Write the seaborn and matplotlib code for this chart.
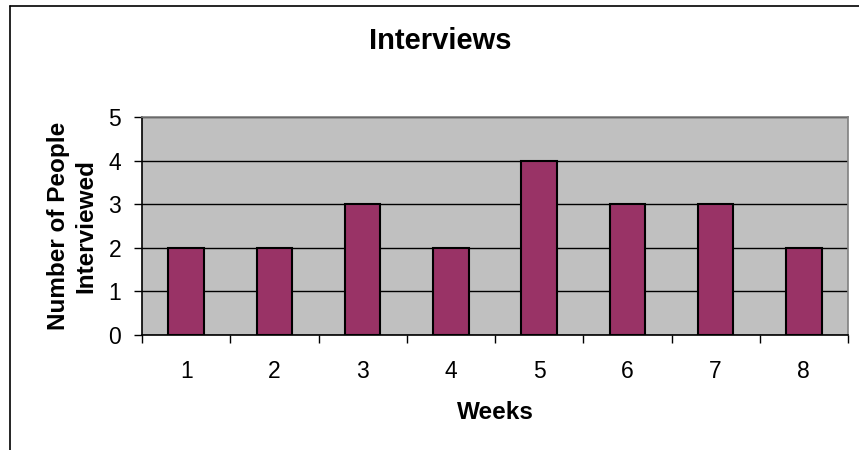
import matplotlib
matplotlib.use("Agg")
import matplotlib.pyplot as plt
import seaborn as sns
import pandas as pd
import numpy as np
from matplotlib.lines import Line2D

# chart data
weeks = ["1", "2", "3", "4", "5", "6", "7", "8"]
people = [2, 2, 3, 2, 4, 3, 3, 2]
y_ticks = [0, 1, 2, 3, 4, 5]

df = pd.DataFrame({"Weeks": weeks, "People": people})

sns.set_theme(style="white")
plt.rcParams['font.family'] = ['Liberation Sans', 'DejaVu Sans']
plt.rcParams['text.color'] = 'black'
plt.rcParams['axes.labelcolor'] = 'black'
plt.rcParams['xtick.color'] = 'black'
plt.rcParams['ytick.color'] = 'black'

fig = plt.figure(figsize=(8.59, 4.5), dpi=100)
ax = fig.add_axes([142 / 859, 1 - 335 / 450, (848 - 142) / 859, (335 - 117) / 450])
ax.set_facecolor("#C0C0C0")

sns.barplot(data=df, x="Weeks", y="People", color="#993366", width=0.4,
            edgecolor="black", linewidth=1.5, saturation=1, ax=ax, zorder=3)

ax.set_ylim(0, 5)
ax.set_xlim(-0.5, len(weeks) - 0.5)
ax.set_yticks(y_ticks, labels=[str(t) for t in y_ticks])
ax.yaxis.grid(True, color="black", linewidth=1)
ax.set_axisbelow(True)

# category boundary ticks on x axis
ax.set_xticks(np.arange(len(weeks)), labels=weeks)
ax.tick_params(axis="x", which="major", length=0, pad=18, labelsize=16.5)
ax.set_xticks(np.arange(len(weeks) + 1) - 0.5, minor=True)
ax.tick_params(axis="x", which="minor", length=6, width=1, color="black", direction="out", bottom=True)
ax.tick_params(axis="y", length=6, width=1, color="black", direction="out", left=True, pad=9,
               labelsize=16.5)

for side in ["left", "bottom"]:
    ax.spines[side].set_color("black")
    ax.spines[side].set_linewidth(1.2)
for side in ["top", "right"]:
    ax.spines[side].set_color("#808080")
    ax.spines[side].set_linewidth(1.2)

ax.set_xlabel("Weeks", fontsize=17.5, fontweight="bold", labelpad=13)
ax.set_ylabel("Number of People\nInterviewed", fontsize=17.5, fontweight="bold",
              labelpad=8, linespacing=1.25)
fig.text(440 / 859, 1 - 41 / 450, "Interviews", ha="center", va="center",
         fontsize=21, fontweight="bold")

# chart area border (cropped at right and bottom)
fig.add_artist(Line2D([10 / 859, 10 / 859], [0, 1 - 6 / 450], color="black", linewidth=1.2,
                      transform=fig.transFigure))
fig.add_artist(Line2D([10 / 859, 1], [1 - 6 / 450, 1 - 6 / 450], color="black", linewidth=1.2,
                      transform=fig.transFigure))

fig.savefig("out.png", dpi=100)
